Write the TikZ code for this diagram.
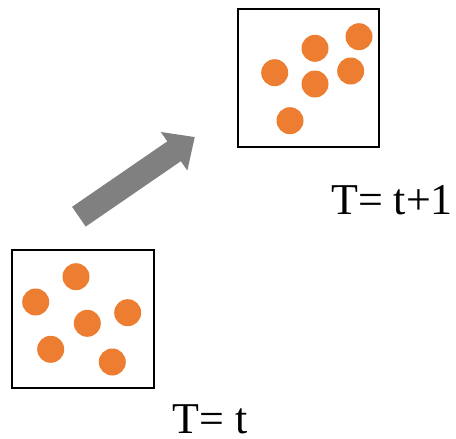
\documentclass[tikz,border=0pt]{standalone}
\usepackage{fontspec}
\setmainfont{Liberation Serif}

\definecolor{dotorange}{RGB}{237,125,49}
\definecolor{arrowgray}{RGB}{128,128,128}

\begin{document}
\begin{tikzpicture}[x=1pt, y=-1pt,
    frame/.style={draw=black, line width=1.6pt},
    particle/.style={fill=dotorange},
    stamp/.style={inner sep=0pt, anchor=base west, font=\fontsize{44}{44}\selectfont}]

  \useasboundingbox (0, 0) rectangle (456, 439);

  % Box at time t
  \draw[frame] (12, 250) rectangle (154, 388);
  \foreach \px/\py in {76/276.7, 35.7/302, 87.3/323.3, 127.7/312.7, 50.7/349.3, 112.3/362}
    \fill[particle] (\px, \py) circle (13.5);

  % Box at time t+1
  \draw[frame] (238, 9) rectangle (379, 147);
  \foreach \px/\py in {359/36.7, 315/48.3, 274.7/72.7, 315/84, 350.7/71, 290/120.7}
    \fill[particle] (\px, \py) circle (13.5);

  % Block arrow
  \begin{scope}[shift={(78.9, 216.7)}, rotate=34.5]
    \fill[arrowgray] (0, 12) -- (115.5, 12) -- (115.5, 23.4) -- (140.6, 0)
      -- (115.5, -23.4) -- (115.5, -12) -- (0, -12) -- cycle;
  \end{scope}

  % Labels
  \node[stamp] (labelnext) at (331, 214.3) {T= t+1};
  \node[stamp] (labelnow)  at (172.6, 433.3) {T= t};

\end{tikzpicture}
\end{document}
